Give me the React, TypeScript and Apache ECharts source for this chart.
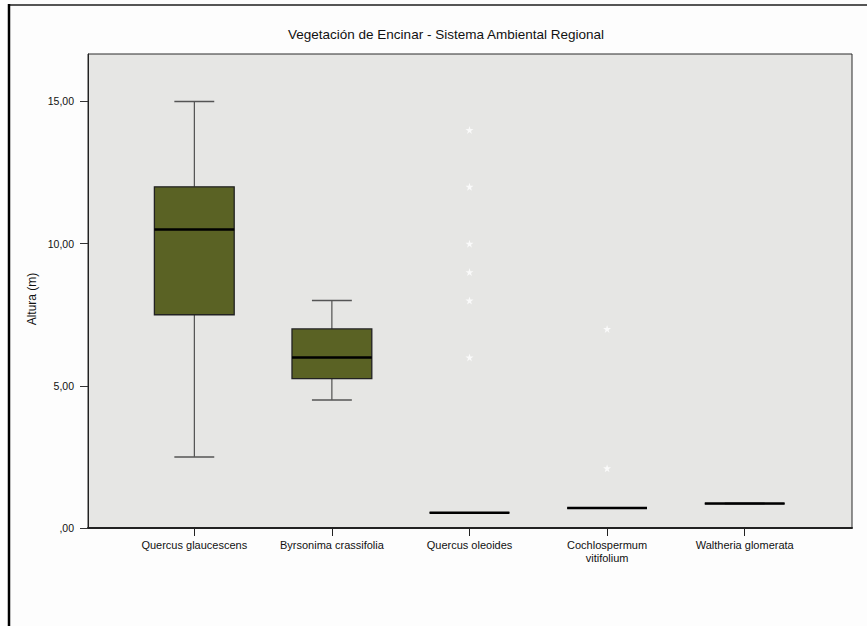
import React, { useEffect, useRef } from 'react';
import * as echarts from 'echarts';

const categories = [
  'Quercus glaucescens',
  'Byrsonima crassifolia',
  'Quercus oleoides',
  'Cochlospermum vitifolium',
  'Waltheria glomerata',
];
const whiskerLow = [2.5, 4.5, 0.54, 0.7, 0.86];
const quartile1 = [7.5, 5.25, 0.54, 0.7, 0.86];
const medians = [10.5, 6, 0.54, 0.7, 0.86];
const quartile3 = [12, 7, 0.54, 0.7, 0.86];
const whiskerHigh = [15, 8, 0.54, 0.7, 0.86];
const extremeCategory = [2, 2, 2, 2, 2, 2, 3, 3];
const extremeValues = [14, 12, 10, 9, 8, 6, 7, 2.1];
const yTicks = [0, 5, 10, 15];
const yMax = 16.67;

const title = 'Vegetación de Encinar - Sistema Ambiental Regional';
const yName = 'Altura (m)';

const FONT = '"Liberation Sans", Arial, sans-serif';
const BOX_FILL = '#5a6224';

function fmt(v: number): string {
  const s = v.toFixed(2).replace('.', ',');
  return s.startsWith('0') ? s.slice(1) : s;
}

export default function App() {
  const ref = useRef<HTMLDivElement>(null);
  useEffect(() => {
    if (!ref.current) return;
    const chart = echarts.init(ref.current, undefined, { renderer: 'svg' });
    const boxData = categories.map((_, i) => [
      i,
      whiskerLow[i],
      quartile1[i],
      medians[i],
      quartile3[i],
      whiskerHigh[i],
    ]);
    const starData = extremeCategory.map((c, i) => [c, extremeValues[i]]);

    const option: any = {
      animation: false,
      backgroundColor: '#fdfdfd',
      textStyle: { fontFamily: FONT },
      title: {
        text: title,
        left: 441,
        top: 22,
        textAlign: 'center',
        textStyle: { fontFamily: FONT, fontSize: 13.5, fontWeight: 'normal', color: '#111' },
      },
      grid: [
        {
          left: 88,
          right: 15,
          top: 54,
          bottom: 98,
          show: true,
          backgroundColor: '#e6e6e4',
          borderColor: '#2a2a2a',
          borderWidth: 1,
        },
        {
          left: 125.5,
          right: 53.5,
          top: 54,
          bottom: 98,
        },
      ],
      xAxis: [
        {
          gridIndex: 0,
          type: 'value',
          min: 0,
          max: 1,
          axisLine: { show: true, lineStyle: { color: '#222', width: 2 } },
          axisTick: { show: false },
          axisLabel: { show: false },
          splitLine: { show: false },
        },
        {
          gridIndex: 1,
          type: 'category',
          data: categories,
          boundaryGap: true,
          axisLine: { show: false },
          axisTick: { show: true, alignWithLabel: true, length: 8, lineStyle: { color: '#222', width: 1 } },
          axisLabel: {
            interval: 0,
            margin: 10,
            fontSize: 11,
            color: '#111',
            fontFamily: FONT,
            lineHeight: 13,
            formatter: (v: string) => (v.length > 22 ? v.replace(' ', '\n') : v),
          },
          splitLine: { show: false },
        },
      ],
      yAxis: [
        {
          gridIndex: 0,
          type: 'value',
          min: 0,
          max: yMax,
          interval: 5,
          axisLine: { show: true, lineStyle: { color: '#222', width: 1 } },
          axisTick: { show: true, length: 8, customValues: yTicks, lineStyle: { color: '#333' } },
          axisLabel: {
            customValues: yTicks,
            margin: 14,
            fontSize: 10.5,
            color: '#111',
            fontFamily: FONT,
            formatter: (v: number) => fmt(v),
          },
          splitLine: { show: false },
        },
        {
          gridIndex: 1,
          type: 'value',
          min: 0,
          max: yMax,
          show: false,
          splitLine: { show: false },
        },
      ],
      graphic: [
        { type: 'line', shape: { x1: 8, y1: 5, x2: 867, y2: 5 }, style: { stroke: '#555', lineWidth: 2 } },
        { type: 'line', shape: { x1: 9, y1: 4, x2: 9, y2: 626 }, style: { stroke: '#000', lineWidth: 2.5 } },
        {
          type: 'text',
          x: 32,
          y: 299,
          rotation: Math.PI / 2,
          style: {
            text: yName,
            fontSize: 12,
            fontFamily: FONT,
            fill: '#111',
            textAlign: 'center',
            textVerticalAlign: 'middle',
          },
        },
      ],
      series: [
        {
          type: 'custom',
          xAxisIndex: 1,
          yAxisIndex: 1,
          data: boxData,
          encode: { x: 0, y: [1, 2, 3, 4, 5] },
          renderItem: (params: any, api: any) => {
            const idx = api.value(0);
            const lo = api.coord([idx, api.value(1)]);
            const q1 = api.coord([idx, api.value(2)]);
            const md = api.coord([idx, api.value(3)]);
            const q3 = api.coord([idx, api.value(4)]);
            const hi = api.coord([idx, api.value(5)]);
            const band = api.size([1, 0])[0];
            const half = band * 0.29;
            const cap = band * 0.145;
            const cx = md[0];
            const wStyle = { stroke: '#333', lineWidth: 1 };
            const cStyle = { stroke: '#555', lineWidth: 1.5 };
            return {
              type: 'group',
              children: [
                { type: 'line', shape: { x1: cx, y1: lo[1], x2: cx, y2: q1[1] }, style: wStyle },
                { type: 'line', shape: { x1: cx, y1: q3[1], x2: cx, y2: hi[1] }, style: wStyle },
                { type: 'line', shape: { x1: cx - cap, y1: lo[1], x2: cx + cap, y2: lo[1] }, style: cStyle },
                { type: 'line', shape: { x1: cx - cap, y1: hi[1], x2: cx + cap, y2: hi[1] }, style: cStyle },
                {
                  type: 'rect',
                  shape: { x: cx - half, y: q3[1], width: half * 2, height: q1[1] - q3[1] },
                  style: { fill: BOX_FILL, stroke: '#222', lineWidth: 1.3 },
                },
                {
                  type: 'line',
                  shape: { x1: cx - half, y1: md[1], x2: cx + half, y2: md[1] },
                  style: { stroke: '#000', lineWidth: 2.5 },
                },
              ],
            };
          },
          z: 3,
        },
        {
          type: 'scatter',
          xAxisIndex: 1,
          yAxisIndex: 1,
          data: starData,
          symbol: 'path://M50,0 L61,35 L98,35 L68,57 L79,91 L50,70 L21,91 L32,57 L2,35 L39,35 Z',
          symbolSize: 8,
          itemStyle: { color: '#ffffff' },
          z: 4,
        },
      ],
    };
    chart.setOption(option);
    return () => chart.dispose();
  }, []);
  return (
    <div
      ref={ref}
      style={{ position: 'fixed', left: 0, top: 0, width: 867, height: 626 }}
    />
  );
}
